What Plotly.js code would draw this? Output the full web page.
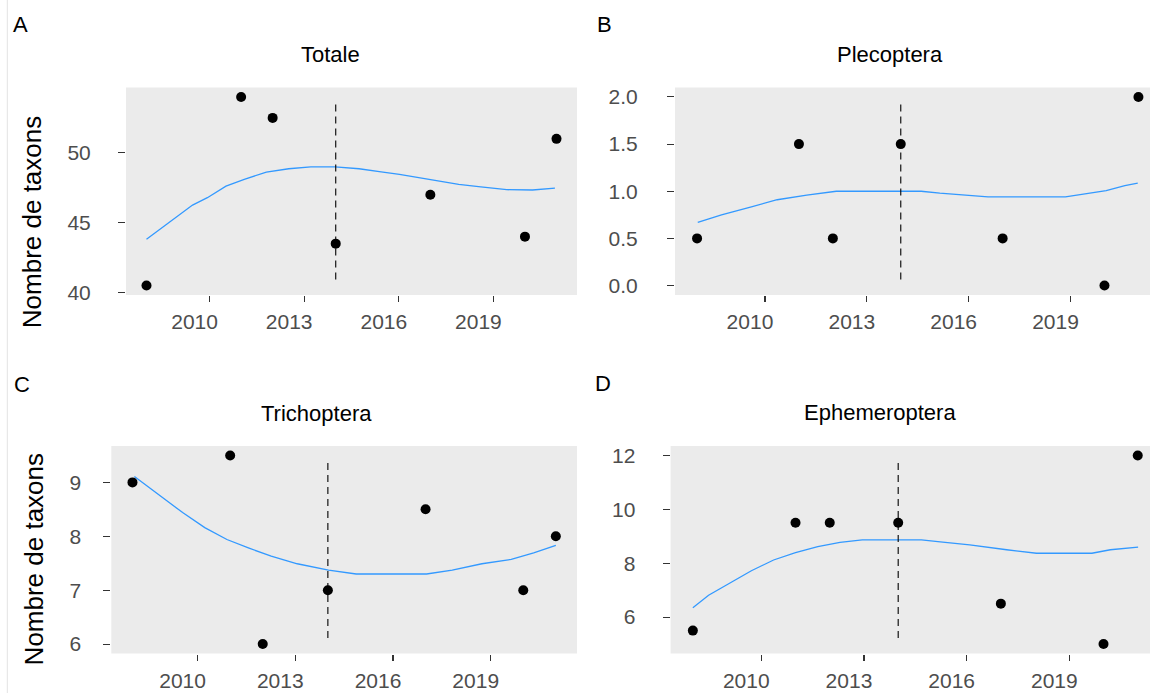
<!DOCTYPE html>
<html>
<head>
<meta charset="utf-8">
<script src="https://cdn.plot.ly/plotly-3.0.1.min.js"></script>
<style>
html, body { margin: 0; padding: 0; background: #ffffff; }
#chart { width: 1150px; height: 693px; }
</style>
</head>
<body>
<div id="chart"></div>
<script>
// ---------------- DATA ----------------
const years = [2008, 2011, 2012, 2014, 2017, 2020, 2021];
const totale = [40.5, 54, 52.5, 43.5, 47, 44, 51];
const plecoptera = [0.5, 1.5, 0.5, 1.5, 0.5, 0, 2];
const trichoptera = [9, 9.5, 6, 7, 8.5, 7, 8];
const ephemeroptera = [5.5, 9.5, 9.5, 9.5, 6.5, 5, 12];

// smoothed (loess) curves
const totaleSmoothX = [2008.0, 2008.76, 2009.46, 2009.93, 2010.52, 2011.1, 2011.8, 2012.51, 2013.21, 2013.98, 2014.74, 2015.44, 2016.02, 2016.96, 2017.9, 2018.6, 2019.42, 2020.24, 2020.95];
const totaleSmoothY = [43.81, 45.07, 46.26, 46.79, 47.62, 48.1, 48.62, 48.86, 49.0, 49.0, 48.86, 48.64, 48.46, 48.1, 47.74, 47.57, 47.36, 47.34, 47.48];

const plecopteraSmoothX = [2008.02, 2008.72, 2009.6, 2010.36, 2011.23, 2012.1, 2014.06, 2014.6, 2015.15, 2016.02, 2016.57, 2018.85, 2019.5, 2020.05, 2020.6, 2020.98];
const plecopteraSmoothY = [0.67, 0.75, 0.835, 0.91, 0.96, 1.0, 1.0, 1.0, 0.98, 0.96, 0.94, 0.94, 0.98, 1.007, 1.06, 1.085];

const trichopteraSmoothX = [2008.06, 2008.74, 2009.54, 2010.22, 2010.9, 2011.58, 2012.26, 2013.06, 2014.02, 2014.87, 2017.03, 2017.82, 2018.73, 2019.63, 2020.32, 2021.0];
const trichopteraSmoothY = [9.11, 8.81, 8.44, 8.16, 7.94, 7.78, 7.63, 7.49, 7.37, 7.3, 7.3, 7.37, 7.49, 7.57, 7.69, 7.83];

const ephemeropteraSmoothX = [2008.0, 2008.46, 2009.06, 2009.71, 2010.36, 2011.0, 2011.65, 2012.3, 2012.95, 2014.68, 2015.23, 2016.09, 2017.17, 2018.04, 2019.66, 2020.2, 2021.01];
const ephemeropteraSmoothY = [6.35, 6.81, 7.25, 7.72, 8.12, 8.39, 8.62, 8.77, 8.87, 8.87, 8.79, 8.68, 8.5, 8.37, 8.37, 8.5, 8.6];

const breakYear = 2014;

const tickYears = [2010, 2013, 2016, 2019];
const tickYearLabels = ["2010", "2013", "2016", "2019"];

const totaleTicks = [40, 45, 50];
const totaleTickLabels = ["40", "45", "50"];
const plecopteraTicks = [0, 0.5, 1, 1.5, 2];
const plecopteraTickLabels = ["0.0", "0.5", "1.0", "1.5", "2.0"];
const trichopteraTicks = [6, 7, 8, 9];
const trichopteraTickLabels = ["6", "7", "8", "9"];
const ephemeropteraTicks = [6, 8, 10, 12];
const ephemeropteraTickLabels = ["6", "8", "10", "12"];

const panelTitles = ["Totale", "Plecoptera", "Trichoptera", "Ephemeroptera"];
const panelLetters = ["A", "B", "C", "D"];
const yTitle = "Nombre de taxons";

// ---------------- LAYOUT HELPERS ----------------
const W = 1150, H = 693;
const FONT = "Liberation Sans, Arial, Helvetica, sans-serif";

function expand(arr) {
  const lo = Math.min(...arr), hi = Math.max(...arr);
  const pad = (hi - lo) * 0.05;
  return [lo - pad, hi + pad];
}

const panels = [
  { y: totale, sx: totaleSmoothX, sy: totaleSmoothY, ticks: totaleTicks, labels: totaleTickLabels,
    box: { left: 126, right: 577, top: 87.5, bottom: 295 }, yStandoff: 23,
    title: { x: 330.4, y: 54.3 }, letter: { x: 20.3, y: 25 }, ytitle: { x: 31.7, y: 222.5 } },
  { y: plecoptera, sx: plecopteraSmoothX, sy: plecopteraSmoothY, ticks: plecopteraTicks, labels: plecopteraTickLabels,
    box: { left: 675, right: 1160.5, top: 87.5, bottom: 295 }, yStandoff: 25,
    title: { x: 890, y: 54.3 }, letter: { x: 604, y: 25 }, ytitle: null },
  { y: trichoptera, sx: trichopteraSmoothX, sy: trichopteraSmoothY, ticks: trichopteraTicks, labels: trichopteraTickLabels,
    box: { left: 111.3, right: 577, top: 446, bottom: 653.5 }, yStandoff: 18,
    title: { x: 316.3, y: 413.3 }, letter: { x: 21.5, y: 384 }, ytitle: { x: 34.2, y: 559.2 } },
  { y: ephemeroptera, sx: ephemeropteraSmoothX, sy: ephemeropteraSmoothY, ticks: ephemeropteraTicks, labels: ephemeropteraTickLabels,
    box: { left: 670.6, right: 1160, top: 446, bottom: 653.5 }, yStandoff: 23,
    title: { x: 880, y: 412.7 }, letter: { x: 603.3, y: 383 }, ytitle: null }
];

const data = [];
const layout = {
  width: W, height: H,
  margin: { l: 0, r: 0, t: 0, b: 0, pad: 0 },
  paper_bgcolor: "#ffffff",
  plot_bgcolor: "#EBEBEB",
  showlegend: false,
  font: { family: FONT, color: "#000000" },
  annotations: [],
  shapes: [
    { type: "line", xref: "paper", yref: "paper", x0: 7.3 / W, x1: 7.3 / W, y0: 0, y1: 1,
      line: { color: "#e3e3e3", width: 1 } }
  ]
};

const xFull = expand(years);

panels.forEach((p, i) => {
  const n = i + 1;
  const xa = n === 1 ? "x" : "x" + n;
  const ya = n === 1 ? "y" : "y" + n;
  const xkey = n === 1 ? "xaxis" : "xaxis" + n;
  const ykey = n === 1 ? "yaxis" : "yaxis" + n;
  const b = p.box;
  const visRight = Math.min(b.right, W);
  const frac = (visRight - b.left) / (b.right - b.left);
  const xRange = [xFull[0], xFull[0] + (xFull[1] - xFull[0]) * frac];
  const yRange = expand(p.y);

  layout[xkey] = {
    domain: [b.left / W, visRight / W],
    anchor: ya,
    range: xRange,
    showgrid: false, zeroline: false, showline: false,
    ticks: "outside", ticklen: 6, tickwidth: 1.1, tickcolor: "#333333",
    tickvals: tickYears, ticktext: tickYearLabels,
    tickfont: { family: FONT, size: 21, color: "#4D4D4D" },
    ticklabelshift: -15, ticklabelstandoff: 2
  };
  layout[ykey] = {
    domain: [1 - b.bottom / H, 1 - b.top / H],
    anchor: xa,
    range: yRange,
    showgrid: false, zeroline: false, showline: false,
    ticks: "outside", ticklen: 7, tickwidth: 1.1, tickcolor: "#333333",
    tickvals: p.ticks, ticktext: p.labels,
    tickfont: { family: FONT, size: 21, color: "#4D4D4D" },
    ticklabelstandoff: p.yStandoff
  };

  data.push({
    type: "scatter", mode: "lines", x: p.sx, y: p.sy, xaxis: xa, yaxis: ya,
    line: { color: "#3399FF", width: 1.3 }, hoverinfo: "skip"
  });
  data.push({
    type: "scatter", mode: "markers", x: years, y: p.y, xaxis: xa, yaxis: ya,
    marker: { color: "#000000", size: 10 }
  });

  layout.shapes.push({
    type: "line", xref: xa, yref: ya + " domain",
    x0: breakYear, x1: breakYear, y0: 0.075, y1: 0.936,
    line: { color: "#000000", width: 1.1, dash: "7px,5px" }
  });

  layout.annotations.push({
    text: panelTitles[i], xref: "paper", yref: "paper",
    x: p.title.x / W, y: 1 - p.title.y / H, xanchor: "center", yanchor: "middle",
    showarrow: false, font: { family: FONT, size: 22, color: "#000000" }
  });
  layout.annotations.push({
    text: panelLetters[i], xref: "paper", yref: "paper",
    x: p.letter.x / W, y: 1 - p.letter.y / H, xanchor: "center", yanchor: "middle",
    showarrow: false, font: { family: FONT, size: 22, color: "#000000" }
  });
  if (p.ytitle) {
    layout.annotations.push({
      text: yTitle, xref: "paper", yref: "paper", textangle: -90,
      x: p.ytitle.x / W, y: 1 - p.ytitle.y / H, xanchor: "center", yanchor: "middle",
      showarrow: false, font: { family: FONT, size: 26, color: "#000000" }
    });
  }
});

Plotly.newPlot("chart", data, layout, { staticPlot: true, displayModeBar: false });
</script>
</body>
</html>
